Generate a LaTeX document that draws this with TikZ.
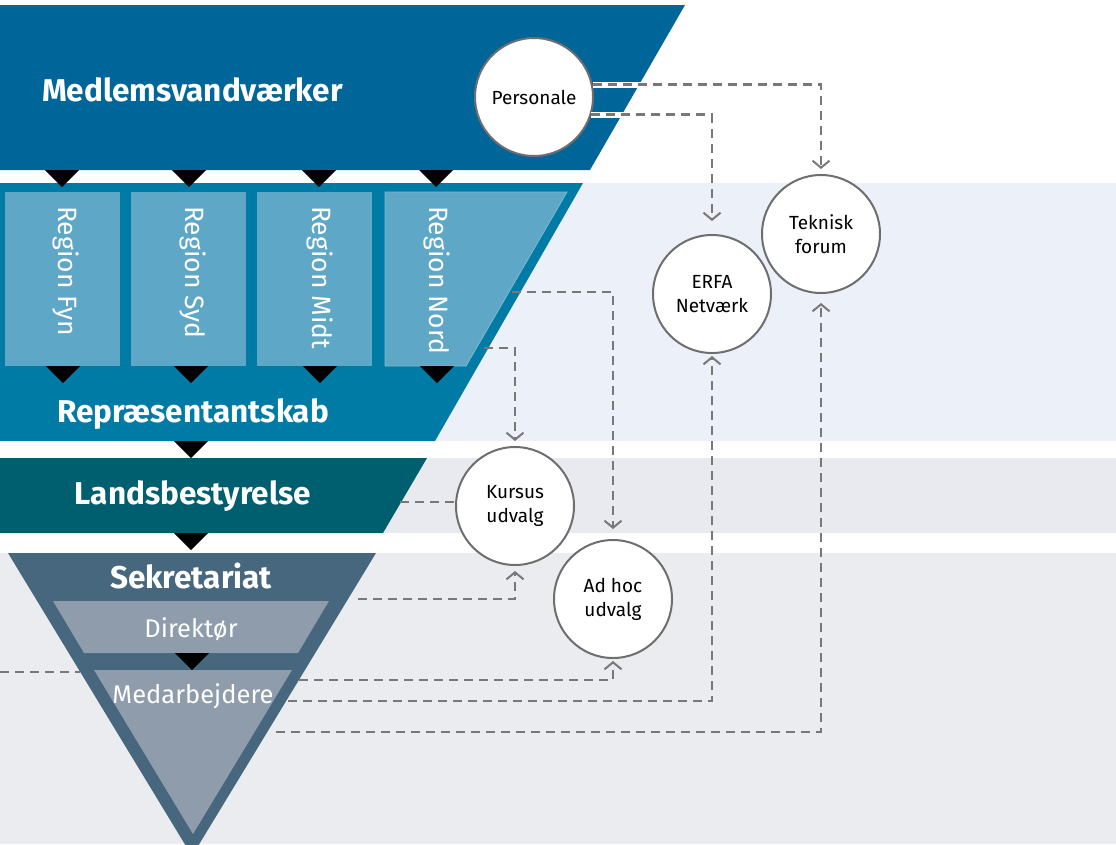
\documentclass[tikz,border=0pt]{standalone}
\usepackage{fontspec}
\setmainfont{Fira Sans}
\usepackage{tikz}
\usetikzlibrary{arrows.meta}
\definecolor{topblue}{HTML}{00669A}
\definecolor{regionteal}{HTML}{007BA5}
\definecolor{regionbox}{HTML}{5EA7C6}
\definecolor{boardteal}{HTML}{005F6E}
\definecolor{secslate}{HTML}{46677D}
\definecolor{secinner}{HTML}{8E9CAB}
\definecolor{bandblue}{HTML}{ECF0F9}
\definecolor{bandgrey}{HTML}{E8EAEF}
\definecolor{bandlight}{HTML}{EBECF0}
\definecolor{flowgrey}{HTML}{787878}
\definecolor{ringgrey}{HTML}{6E6E6E}
\newcommand{\defaultringsize}{118pt}
\newcommand{\ringsize}{\defaultringsize}
\newcommand{\headfont}{\fontsize{31.5}{34}\selectfont\bfseries}
\newcommand{\subfont}{\fontsize{25.5}{28}\selectfont}
\newcommand{\regionfont}{\fontsize{26.5}{28}\selectfont}
\newcommand{\ringfont}{\fontsize{19}{24}\selectfont}
% small black pointer between two levels
\newcommand{\pointer}[2]{\fill[black] (#1-17,#2) -- (#1+17,#2) -- (#1,#2+17) -- cycle;}
\tikzstyle{ring}=[circle, draw=ringgrey, line width=2pt, fill=white, inner sep=0,
                  minimum size=\ringsize, align=center, font=\ringfont]
\tikzstyle{headtext}=[text=white, inner sep=0, font=\headfont]
\tikzstyle{subtext}=[text=white, inner sep=0, font=\subfont]
\tikzstyle{regiontext}=[subtext, font=\regionfont, rotate=-90, anchor=west]
\tikzstyle{flowline}=[draw=flowgrey, line width=2.4pt, dash pattern=on 9pt off 6pt]
\tikzstyle{flow}=[flowline, -{Straight Barb[length=7pt, width=17pt, line width=2pt]}]
\tikzstyle{casing}=[draw=white, line width=6pt]
\begin{document}
\begin{tikzpicture}[x=1pt, y=-1pt]
    \useasboundingbox (0,0) rectangle (1116,844);
    % background bands
    \fill[bandblue]  (0,183) rectangle (1116,441);
    \fill[bandgrey]  (0,458) rectangle (1116,533);
    \fill[bandlight] (0,553) rectangle (1116,844);

    % levels
    \fill[topblue] (0,5) -- (685,5) -- (590,170) -- (0,170) -- cycle;
    \fill[regionteal] (0,183) -- (583,183) -- (435,441) -- (0,441) -- cycle;
    \fill[regionbox] (5,192) rectangle (120,366);
    \fill[regionbox] (131,192) rectangle (246,366);
    \fill[regionbox] (257,192) rectangle (372,366);
    \fill[regionbox, draw=regionbox!80!white, line width=0.8pt] (385,192) -- (567,192) -- (466,366) -- (385,366) -- cycle;
    \fill[boardteal] (0,458) -- (427,458) -- (383,533) -- (0,533) -- cycle;
    \fill[secslate] (8,553) -- (376,553) -- (192,856) -- cycle;
    \fill[secinner] (53,601) -- (329,601) -- (298,653) -- (84,653) -- cycle;
    \fill[secinner] (94,670) -- (292,670) -- (193,834) -- cycle;

    \pointer{62}{170} \pointer{189}{170} \pointer{319}{170} \pointer{436}{170}
    \pointer{63}{366} \pointer{191}{366} \pointer{320}{366} \pointer{437}{366}
    \pointer{191}{441} \pointer{191}{533} \pointer{192}{653}

    % labels
    \node[headtext, anchor=base west] (members) at (42,101) {Medlemsvandværker};
    \node[regiontext] (fyn)  at (66,206)  {Region Fyn};
    \node[regiontext] (syd)  at (193,206) {Region Syd};
    \node[regiontext] (midt) at (320,206) {Region Midt};
    \node[regiontext] (nord) at (437,206) {Region Nord};
    \node[headtext, anchor=base] (council) at (193,422) {Repræsentantskab};
    \node[headtext, anchor=base] (board) at (193,504) {Landsbestyrelse};
    \node[headtext, anchor=base] (secretariat) at (191,588) {Sekretariat};
    \node[subtext, anchor=base] (director) at (191,637) {Direktør};
    \node[subtext, anchor=base] (staff) at (193,703) {Medarbejdere};

    % committees
    \node[ring] (Personale) at (534,97)  {Personale};
    \node[ring] (Teknisk)   at (821,234) {Teknisk\\forum};
    \node[ring] (ERFA)      at (712,294) {ERFA\\Netværk};
    \node[ring] (Kursus)    at (515,506) {Kursus\\udvalg};
    \node[ring] (Adhoc)     at (613,599) {Ad hoc\\udvalg};

    \coordinate (nordA)  at (512,292);
    \coordinate (nordB)  at (484,348);
    \coordinate (boardE) at (400,502);
    \coordinate (secE)   at (358,599);
    \coordinate (leftIn) at (0,672);
    \coordinate (secW)   at (80,672);
    \coordinate (staffA) at (299,680);
    \coordinate (staffB) at (288,701);
    \coordinate (staffC) at (276,732);

    \draw[casing] (Personale.12) -- +(110,0);
    \draw[casing] (Personale.-17) -- +(110,0);
    \draw[flow, shorten >=5pt]  (Personale.12) -| (Teknisk.north);
    \draw[flow, shorten >=13pt] (Personale.-17) -| (ERFA.north);
    \draw[flow, shorten >=10pt] (nordA) -| (Adhoc.north);
    \draw[flow, shorten >=5pt]  (nordB) -| (Kursus.north);
    \draw[flowline] (boardE) -- (boardE -| Kursus.west);
    \draw[flow, shorten >=5pt]  (secE) -| (Kursus.south);
    \draw[flowline] (leftIn) -- (secW);
    \draw[flow, shorten >=2pt]  (staffA) -| (Adhoc.south);
    \draw[flow, shorten >=2pt]  (staffB) -| (ERFA.south);
    \draw[flow, shorten >=9pt]  (staffC) -| (Teknisk.south);
\end{tikzpicture}
\end{document}
